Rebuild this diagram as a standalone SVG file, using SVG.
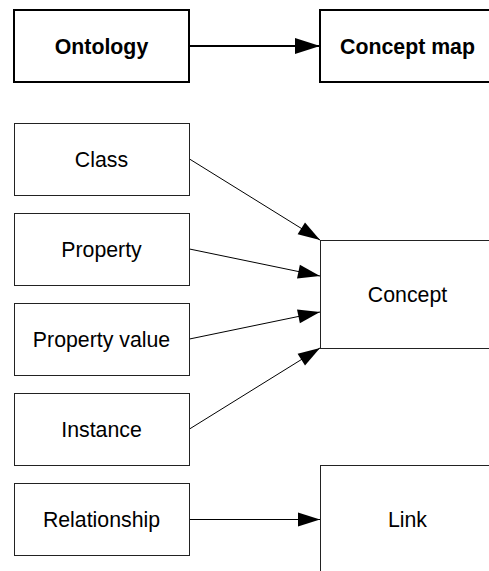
<svg xmlns="http://www.w3.org/2000/svg" width="489" height="571" viewBox="0 0 489 571">
  <style>
    .bg { fill: #ffffff; }
    .box { fill: #ffffff; stroke: #222222; stroke-width: 1; }
    .boxb { fill: #ffffff; stroke: #000000; stroke-width: 2; }
    .lbl { font-family: "Liberation Sans", Arial, sans-serif; font-size: 21.3px; fill: #000000; text-anchor: middle; }
    .lblb { font-family: "Liberation Sans", Arial, sans-serif; font-size: 21.3px; font-weight: bold; fill: #000000; text-anchor: middle; }
    .conn { stroke: #000000; stroke-width: 1; fill: none; marker-end: url(#arr); }
    .connb { stroke: #000000; stroke-width: 2; fill: none; marker-end: url(#arrb); }
  </style>
  <defs>
    <marker id="arr" markerUnits="userSpaceOnUse" markerWidth="22" markerHeight="14" refX="22" refY="7" orient="auto" overflow="visible">
      <path d="M0,0 L22,7 L0,14 z" fill="#000000"/>
    </marker>
    <marker id="arrb" markerUnits="userSpaceOnUse" markerWidth="25" markerHeight="16" refX="25" refY="8" orient="auto" overflow="visible">
      <path d="M0,0 L25,8 L0,16 z" fill="#000000"/>
    </marker>
  </defs>
  <rect class="bg" x="0" y="0" width="489" height="571"/>

  <g id="connectors">
    <line class="connb" x1="189" y1="46" x2="320" y2="46"/>
    <line class="conn" x1="189.5" y1="159" x2="320" y2="240"/>
    <line class="conn" x1="189.5" y1="249" x2="320" y2="276"/>
    <line class="conn" x1="189.5" y1="339" x2="320" y2="312"/>
    <line class="conn" x1="189.5" y1="429" x2="320" y2="348"/>
    <line class="conn" x1="189.5" y1="519.5" x2="320" y2="519.5"/>
  </g>

  <g id="ontology">
    <rect class="boxb" x="14" y="10" width="175" height="72"/>
    <text class="lblb" x="101.5" y="53.5">Ontology</text>
  </g>
  <g id="concept-map">
    <rect class="boxb" x="320" y="10" width="180" height="72"/>
    <text class="lblb" x="407.5" y="53.5">Concept map</text>
  </g>

  <g id="class">
    <rect class="box" x="14.5" y="123.5" width="175" height="72"/>
    <text class="lbl" x="101.5" y="166.7">Class</text>
  </g>
  <g id="property">
    <rect class="box" x="14.5" y="213.5" width="175" height="72"/>
    <text class="lbl" x="101.5" y="256.7">Property</text>
  </g>
  <g id="property-value">
    <rect class="box" x="14.5" y="303.5" width="175" height="72"/>
    <text class="lbl" x="101.5" y="346.7">Property value</text>
  </g>
  <g id="instance">
    <rect class="box" x="14.5" y="393.5" width="175" height="72"/>
    <text class="lbl" x="101.5" y="436.7">Instance</text>
  </g>
  <g id="relationship">
    <rect class="box" x="14.5" y="483.5" width="175" height="72"/>
    <text class="lbl" x="101.5" y="526.7">Relationship</text>
  </g>

  <g id="concept">
    <rect class="box" x="320.5" y="240.5" width="180" height="108"/>
    <text class="lbl" x="407.5" y="301.7">Concept</text>
  </g>
  <g id="link">
    <rect class="box" x="320.5" y="465.5" width="180" height="120"/>
    <text class="lbl" x="407.5" y="526.7">Link</text>
  </g>
</svg>
